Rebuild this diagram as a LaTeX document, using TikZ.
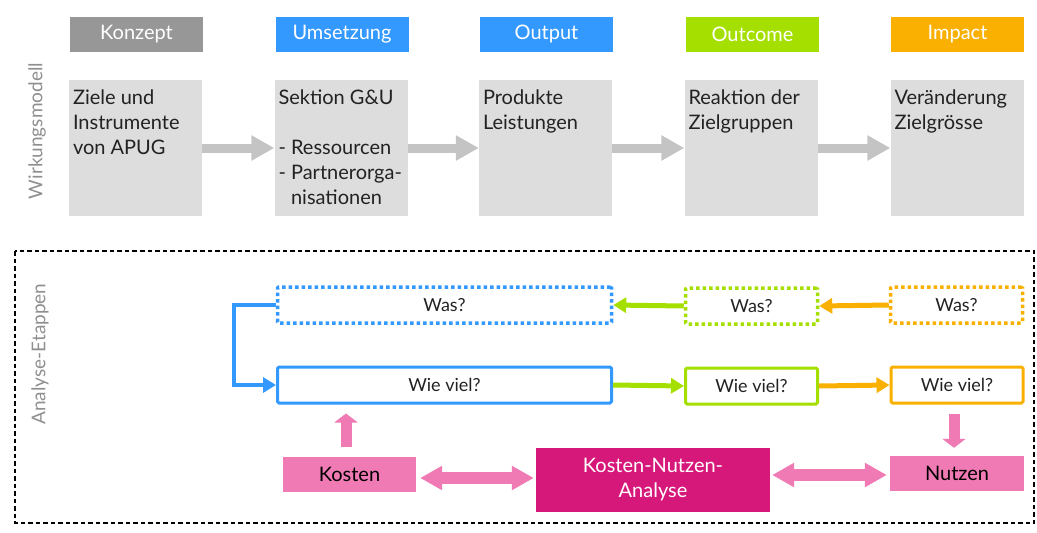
\documentclass[tikz,border=0pt]{standalone}
\usepackage{fontspec}
\setmainfont{Lato}
\usetikzlibrary{positioning, arrows.meta}

\definecolor{headgray}{RGB}{151,151,151}
\definecolor{boxgray}{RGB}{221,221,221}
\definecolor{flowgray}{RGB}{196,196,196}
\definecolor{labelgray}{RGB}{143,143,143}
\definecolor{textdark}{RGB}{34,34,34}
\definecolor{wblue}{RGB}{51,153,255}
\definecolor{wgreen}{RGB}{165,223,0}
\definecolor{worange}{RGB}{250,176,0}
\definecolor{wpink}{RGB}{240,122,180}
\definecolor{wmagenta}{RGB}{214,24,122}

\tikzset{
  header/.style={fill=#1, text=white, minimum width=133pt, minimum height=35pt, inner sep=0pt},
  stage/.style={fill=boxgray, minimum width=133pt, minimum height=136pt, inner sep=0pt},
  stagetext/.style={anchor=north west, align=left, inner sep=0pt, text=textdark},
  flow/.style={draw=flowgray, line width=9pt, -{Triangle[length=23pt,width=24pt]}},
  was/.style={draw=#1, line width=3.5pt, dash pattern=on 3.5pt off 3pt, rounded corners=1pt,
    minimum height=36pt, inner sep=0pt, text=textdark, font=\fontsize{18}{22}\selectfont},
  wie/.style={draw=#1, line width=3pt, rounded corners=1.5pt,
    minimum height=36pt, inner sep=0pt, text=textdark, font=\fontsize{18}{22}\selectfont},
  link/.style={draw=#1, line width=5pt, -{Triangle[length=13pt,width=15pt]}},
  fat/.style={draw=wpink, line width=11pt, -{Triangle[length=9pt,width=23pt]}},
  fatboth/.style={draw=wpink, line width=12pt,
    {Triangle[length=22pt,width=23pt]}-{Triangle[length=22pt,width=23pt]}},
  sidelabel/.style={rotate=90, text=labelgray, font=\fontsize{19}{22}\selectfont},
}

\begin{document}
\begin{tikzpicture}[x=1pt, y=-1pt, font=\fontsize{20}{25}\selectfont]
  \useasboundingbox (0,0) rectangle (1037,533);

  % Wirkungsmodell
  \node[sidelabel] (wirkung) at (37,131) {Wirkungsmodell};

  \node[header=headgray] (konzept) at (136.5,34) {Konzept};
  \node[header=wblue] (umsetzung) at (342,34) {Umsetzung};
  \node[header=wblue] (output) at (546.5,34) {Output};
  \node[header=wgreen] (outcome) at (752.5,34) {Outcome};
  \node[header=worange] (impact) at (957.5,34) {Impact};

  \node[stage] (konzeptBox) at (135.5,148) {};
  \node[stage] (umsetzungBox) at (341,148) {};
  \node[stage] (outputBox) at (545.5,148) {};
  \node[stage] (outcomeBox) at (751,148) {};
  \node[stage] (impactBox) at (957,148) {};

  \node[stagetext] (konzeptTxt) at ([shift={(4,10)}]konzeptBox.north west)
    {Ziele und\\Instrumente\\von APUG};
  \node[stagetext] (umsetzungTxt) at ([shift={(4,10)}]umsetzungBox.north west)
    {Sektion G\&U\\\mbox{}\\- Ressourcen\\- Partnerorga-\\\phantom{- }nisationen};
  \node[stagetext] (outputTxt) at ([shift={(4,10)}]outputBox.north west)
    {Produkte\\Leistungen};
  \node[stagetext] (outcomeTxt) at ([shift={(4,10)}]outcomeBox.north west)
    {Reaktion der\\Zielgruppen};
  \node[stagetext] (impactTxt) at ([shift={(4,10)}]impactBox.north west)
    {Veränderung\\Zielgrösse};

  \draw[flow] (konzeptBox.east) -- (umsetzungBox.west);
  \draw[flow] (umsetzungBox.east) -- (outputBox.west);
  \draw[flow] (outputBox.east) -- (outcomeBox.west);
  \draw[flow] (outcomeBox.east) -- (impactBox.west);

  % Analyse-Etappen
  \draw[line width=1.5pt, dash pattern=on 4.5pt off 3pt] (15,251) rectangle (1034,523);
  \node[sidelabel] (analyse) at (40,354) {Analyse-Etappen};

  \node[was=wblue, minimum width=334pt] (wasBlue) at (444.5,305) {Was?};
  \node[was=wgreen, minimum width=132pt] (wasGreen) at (751.5,306) {Was?};
  \node[was=worange, minimum width=132pt] (wasOrange) at (956.5,305) {Was?};

  \node[wie=wblue, minimum width=334pt] (wieBlue) at (444.5,385) {Wie viel?};
  \node[wie=wgreen, minimum width=132pt] (wieGreen) at (751.5,386) {Wie viel?};
  \node[wie=worange, minimum width=132pt] (wieOrange) at (957,385) {Wie viel?};

  \node[fill=wpink, minimum width=133pt, minimum height=35pt] (kosten) at (349.5,474.5) {Kosten};
  \node[fill=wmagenta, text=white, align=center, minimum width=234pt, minimum height=64pt]
    (kna) at (653,480) {Kosten-Nutzen-\\Analyse};
  \node[fill=wpink, minimum width=134pt, minimum height=35pt] (nutzen) at (957,473.5) {Nutzen};

  \draw[link=wgreen] (wasGreen.west) -- (wasBlue.east);
  \draw[link=worange] (wasOrange.west) -- (wasGreen.east);
  \draw[link=wgreen] (wieBlue.east) -- (wieGreen.west);
  \draw[link=worange] (wieGreen.east) -- (wieOrange.west);
  \draw[link=wblue, line width=4pt] (wasBlue.west) -- ++(-42,0) |- (wieBlue.west);

  \draw[fat, shorten <=10pt, shorten >=9pt] ([xshift=-3.5pt]kosten.north)
    -- ([xshift=-3.5pt]kosten.north |- wieBlue.south);
  \draw[fat, shorten <=9pt, shorten >=8pt] ([xshift=-3pt]wieOrange.south)
    -- ([xshift=-3pt]wieOrange.south |- nutzen.north);
  \draw[fatboth, shorten <=4pt, shorten >=2pt] ([yshift=-3.5pt]kosten.east)
    -- ([yshift=-3.5pt]kosten.east -| kna.west);
  \draw[fatboth, shorten <=2pt, shorten >=3pt] ([yshift=-1.5pt]nutzen.west -| kna.east)
    -- ([yshift=-1.5pt]nutzen.west);
\end{tikzpicture}
\end{document}
